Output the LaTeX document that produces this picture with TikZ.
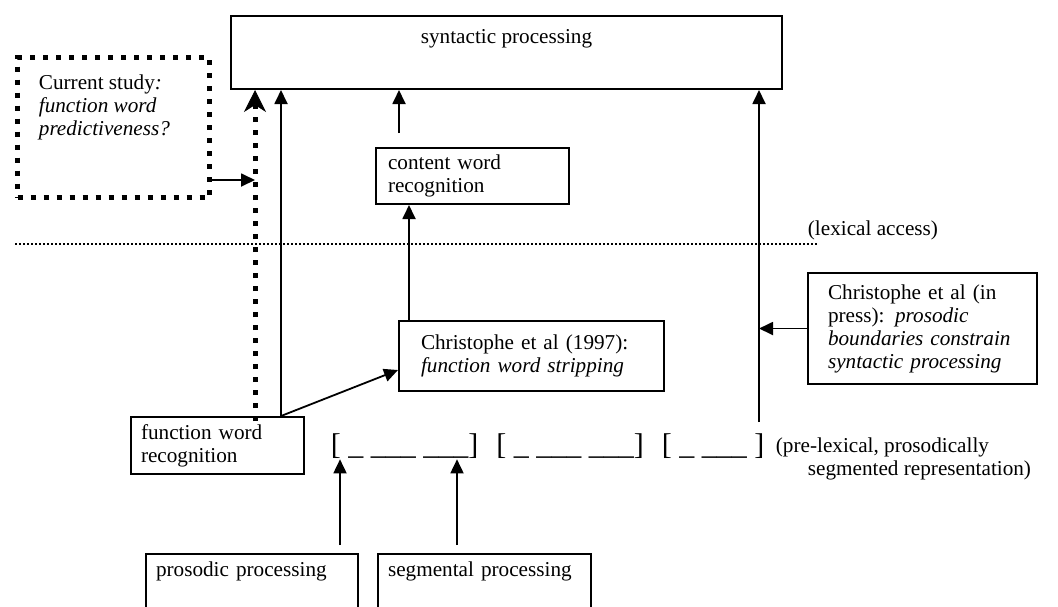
\documentclass[tikz,border=0pt]{standalone}
\usepackage{fontspec}
\setmainfont{Liberation Serif}
\usetikzlibrary{positioning,calc}
\usetikzlibrary{arrows.meta}

\begin{document}
\begin{tikzpicture}[x=0.5pt, y=-0.5pt, line width=0.9pt,
	>={Triangle[length=7pt,width=6.5pt]},
	every node/.style={font=\fontsize{10.6}{11.5}\selectfont},
	box/.style={draw, line width=1pt, anchor=north west, align=left, inner ysep=0pt},
	squaredot/.style={line width=2.5pt, dash pattern=on 2.5pt off 4pt},
	rounddot/.style={line width=1pt, dash pattern=on 1pt off 1pt}]
\useasboundingbox (0,0) rectangle (1058,606);

\node [box, minimum width=275.5pt, inner xsep=0pt, text height=13.5pt, text depth=23pt] (syn) at (230,15) {syntactic processing};

\node [box, squaredot, minimum width=96pt, minimum height=70pt] (cur) at (15,55) {};
\node [anchor=north west, align=left, inner sep=0pt, below right=9.5pt and 11.5pt of cur.north west] (curtxt) {Current study\textit{:}\\\textit{function word}\\\textit{predictiveness?}};

\node [box, text width=84.5pt, inner xsep=6pt, minimum height=28pt] (cwr) at (375,147) {content word\\recognition};
\node [box, text width=110.5pt, inner xsep=11pt, minimum height=35pt] (c97) at (398,320) {Christophe et al (1997):\\\textit{function word stripping}};
\node [box, text width=94.5pt, inner xsep=10pt, minimum height=55.5pt] (cip) at (807,272) {Christophe et al (in\\press): \textit{prosodic}\\\textit{boundaries constrain}\\\textit{syntactic processing}};
\node [box, text width=76.5pt, inner xsep=5pt, minimum height=28.5pt] (fwr) at (130,416) {function word\\recognition};

\begin{scope}
	\clip (0,0) rectangle (1058,606);
	\node [box, text width=96pt, inner xsep=5pt, text height=11pt, text depth=32.5pt] (pro) at (145,553) {prosodic processing};
	\node [box, text width=96.5pt, inner xsep=5pt, text height=11pt, text depth=32.5pt] (seg) at (377,553) {segmental processing};
\end{scope}

\node [anchor=west, inner sep=0pt, font=\fontsize{15}{18}\selectfont] (brk) at (330,446) {[ \_ \_\_\_ \_\_\_]\hspace{9pt}[ \_ \_\_\_ \_\_\_]\hspace{9pt}[ \_ \_\_\_ ]};
\node [anchor=north west, align=left, inner sep=0pt] (prelex) at (775,437) {(pre-lexical, prosodically\\\hspace*{16pt}segmented representation)};

\draw [rounddot] (15,244) coordinate (lx) -- (817,244);
\node [anchor=west, inner sep=0pt] (lex) at (807,230) {(lexical access)};

\coordinate (d0) at (255,421);
\draw [squaredot, -{Stealth[length=11pt,width=11pt,inset=3.5pt,line width=0.5pt]}] (d0) -- (d0 |- syn.south);
\draw [->] ([yshift=10pt]cur.south east) coordinate (u0) -- (u0 -| d0);

\draw [->] ([xshift=-12pt]fwr.north east) coordinate (f0) -- (f0 |- syn.south);
\draw [->] (f0) -- ([yshift=11pt]c97.south west);
\draw [->] ([xshift=5.5pt]c97.north west) coordinate (k0) -- (k0 |- cwr.south);
\draw [->] ([shift={(12pt,7pt)}]cwr.north west) coordinate (w0) -- (w0 |- syn.south);

\coordinate (r0) at (759,422);
\draw [->] (r0) -- (r0 |- syn.south);
\draw [->] (cip.west) -- (cip.west -| r0);

\draw [->] ([shift={(-9.5pt,4pt)}]pro.north east) coordinate (p0) -- (p0 |- brk.south);
\draw [->] ([shift={(40pt,4pt)}]seg.north west) coordinate (s0) -- (s0 |- brk.south);

\end{tikzpicture}
\end{document}
